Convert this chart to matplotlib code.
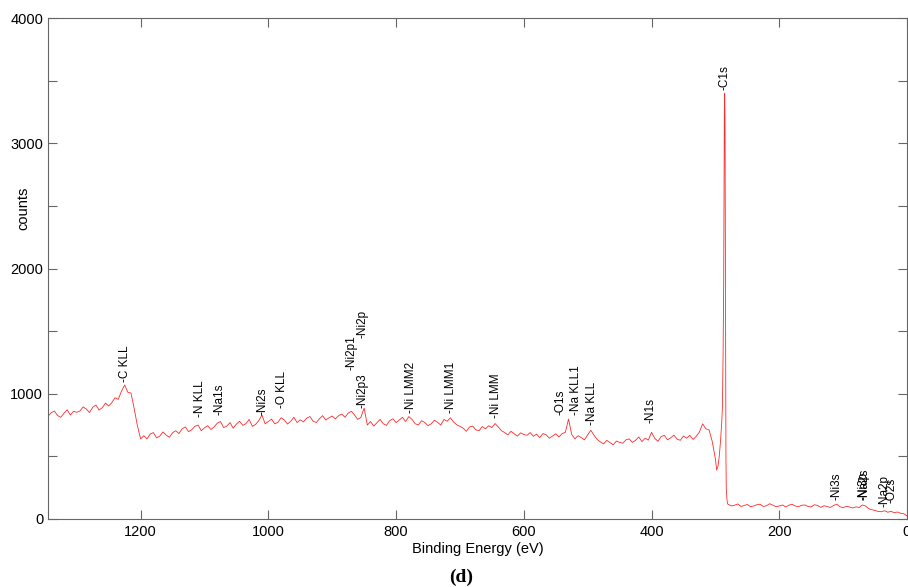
import numpy as np
import matplotlib
matplotlib.use("Agg")
import matplotlib.pyplot as plt

plt.rcParams["font.family"] = ["Liberation Sans", "DejaVu Sans"]

# ── survey spectrum ──────────────────────────────────────────────────
# high binding energy part, 1345 -> 300 eV in 5 eV steps
be_hi = np.arange(1345, 299, -5)
counts_hi = [
    820, 848, 862, 826, 812, 845, 872, 830, 860, 852,    # 1345-1300
    862, 895, 878, 850, 892, 910, 870, 888, 925, 902,    # 1295-1250
    930, 968, 955, 1020, 1070, 1012, 1005, 880, 745, 640,  # 1245-1200
    665, 640, 678, 690, 648, 662, 695, 670, 652, 688,    # 1195-1150
    705, 682, 720, 735, 698, 712, 740, 750, 705, 728,    # 1145-1100
    745, 715, 735, 765, 778, 730, 742, 770, 725, 758,    # 1095-1050
    780, 748, 762, 795, 740, 755, 785, 830, 760, 778,    # 1045-1000
    798, 760, 772, 808, 790, 758, 780, 812, 770, 792,    # 995-950
    775, 805, 818, 782, 770, 800, 825, 790, 808, 822,    # 945-900
    800, 825, 838, 812, 845, 860, 830, 795, 812, 885,    # 895-850
    750, 778, 742, 768, 795, 760, 748, 785, 800, 770,    # 845-800
    790, 812, 778, 818, 795, 760, 752, 785, 770, 745,    # 795-750
    760, 788, 772, 750, 795, 780, 808, 775, 752, 740,    # 745-700
    725, 700, 735, 742, 712, 705, 738, 720, 745, 730,    # 695-650
    762, 735, 705, 690, 672, 700, 680, 662, 688, 675,    # 645-600
    668, 690, 660, 678, 650, 682, 672, 645, 662, 680,    # 595-550
    655, 682, 692, 798, 675, 640, 665, 650, 632, 672,    # 545-500
    708, 668, 635, 615, 600, 628, 610, 592, 622, 612,    # 495-450
    605, 632, 640, 612, 628, 655, 618, 645, 630, 692,    # 445-400
    645, 620, 658, 668, 632, 648, 670, 638, 628, 662,    # 395-350
    645, 668, 635, 660, 695, 760, 720, 712, 620, 480,    # 345-300
]

# C1s region, finer steps
be_c1s = [298, 296, 294, 292, 290, 289, 288, 287, 286.5, 286,
          285.5, 285, 284.5, 284, 283.5, 283, 282, 281]
counts_c1s = [390, 420, 500, 620, 780, 900, 1300, 1900, 2600, 3250,
              3400, 3200, 2400, 1300, 500, 250, 160, 120]

# low binding energy part, 280 -> 0 eV
be_lo = np.arange(280, -1, -5)
counts_lo = [
    118, 104, 110, 120, 100, 108, 116, 98, 104, 114,
    118, 100, 106, 122, 110, 98, 104, 112, 96, 110,
    118, 104, 98, 110, 112, 100, 96, 114, 108, 93,
    106, 100, 92, 108, 118, 98, 90, 102, 96, 88,
    97, 92, 112, 104, 82, 74, 68, 60, 58, 66,
    54, 62, 50, 56, 46, 42, 25,
]

# peak labels: name, energy, height of label foot
peak_names = ["C KLL", "N KLL", "Na1s", "Ni2s", "O KLL", "Ni2p1", "Ni2p3",
              "Ni2p", "Ni LMM2", "Ni LMM1", "Ni LMM", "O1s", "Na KLL1",
              "Na KLL", "N1s", "C1s", "Ni3s", "Ni3p", "Na2s", "Na2p", "O2s"]
peak_be = [1225, 1107, 1076, 1009, 978, 870, 853,
           853, 777, 714, 643, 542, 518,
           493, 401, 285.6, 111, 68, 66, 35, 24]
peak_y = [1090, 814, 830, 830, 886, 1190, 886,
          1445, 846, 846, 806, 830, 830,
          750, 766, 3425, 152, 152, 152, 96, 128]

be = np.concatenate([be_hi, be_c1s, be_lo])
counts = np.concatenate([counts_hi, counts_c1s, counts_lo])

fig = plt.figure(figsize=(9.08, 5.87), dpi=100)
ax = fig.add_axes([48 / 908, 1 - 519 / 587, 859 / 908, 501 / 587])

ax.plot(be, counts, color="#ff2a2a", lw=0.6)

for name, x, y in zip(peak_names, peak_be, peak_y):
    ax.text(x, y, "-" + name, rotation=90, ha="center", va="bottom",
            fontsize=8.5, color="black")

ax.set_xlim(1345, 0)
ax.set_ylim(0, 4000)
ax.set_xticks([1200, 1000, 800, 600, 400, 200, 0])
ax.set_yticks([0, 1000, 2000, 3000, 4000])
ax.set_yticks(np.arange(500, 4000, 1000), minor=True)

ax.tick_params(which="both", direction="in", length=6.5, width=0.8,
               color="#666666", labelsize=10.5, top=True, right=True)
ax.tick_params(axis="x", pad=4.5)
for sp in ax.spines.values():
    sp.set_color("#666666")
    sp.set_linewidth(0.8)

ax.set_xlabel("Binding Energy (eV)", fontsize=10.5, labelpad=2)
ax.set_ylabel("counts", fontsize=10.5)
ax.yaxis.set_label_coords(-0.02, 0.62)

fig.text(461 / 908, 1 - 577 / 587, "(d)", ha="center", va="center",
         fontsize=14, fontweight="bold", family=["Liberation Serif", "DejaVu Serif"])

fig.savefig("out.png", dpi=100, facecolor="white")
